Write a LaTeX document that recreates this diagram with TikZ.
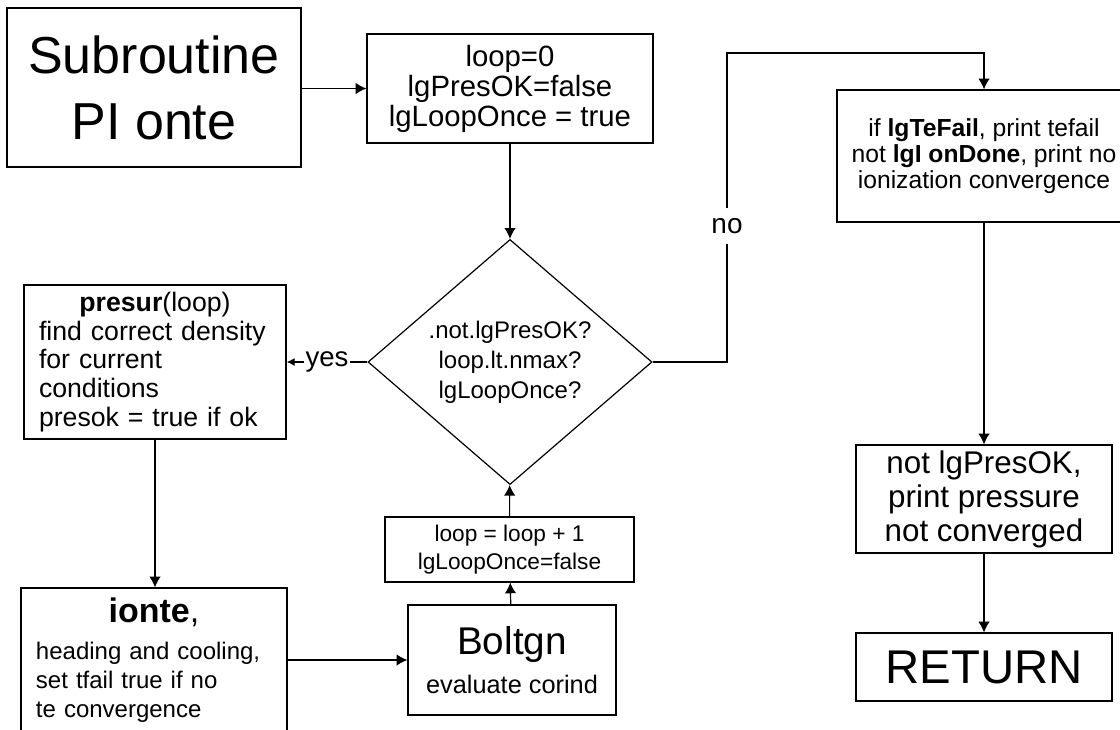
\documentclass[tikz,border=0pt]{standalone}
\usepackage{fontspec}
\setmainfont{Liberation Sans}
\usetikzlibrary{arrows.meta,shapes.geometric}
\newcommand{\fsz}[2]{\fontsize{#1}{#2}\selectfont}
\begin{document}
\begin{tikzpicture}[x=0.75pt,y=-0.75pt,
  box/.style={draw, line width=0.9pt, rectangle, inner sep=0pt, align=center},
  pw/.style={minimum width=#1*0.75pt},
  ph/.style={minimum height=#1*0.75pt},
  arr/.style={line width=0.9pt, -{Latex[length=8pt,width=8.5pt]}},
  smallarr/.style={line width=0.9pt, -{Latex[length=6pt,width=6pt]}},
  lbl/.style={fill=white, inner sep=3pt}]
\clip (0,0) rectangle (1120,729);
\fill[white] (0,0) rectangle (1120,729);

\node[box,pw=294,ph=159,font=\fsz{39}{49.5}] (sub) at (154,87.5) {Subroutine\\PI onte};
\node[box,pw=286,ph=109,font=\fsz{22}{22.5}] (init) at (510,88.5) {loop=0\\lgPresOK=false\\lgLoopOnce = true};
\node[draw, line width=0.9pt, diamond, inner sep=0pt, minimum width=284*0.75pt, minimum height=240*0.75pt, align=center, font=\fsz{18}{22.5}] (dia) at (510,362) {.not.lgPresOK?\\loop.lt.nmax?\\lgLoopOnce?};
\node[box,pw=262,ph=154,text width=174pt,align=left,font=\fsz{20}{21.5}] (presur) at (155,362)
  {{\centering\textbf{presur}(loop)\par}find correct density\\for current\\conditions\\presok = true if ok};
\node[box,pw=266,ph=144,text width=177pt,align=left,font=\fsz{18}{21.75}] (ionte) at (154,660)
  {{\centering\fsz{25.5}{28}\textbf{ionte},\par}\vskip 6pt heading and cooling,\\set tfail true if no\\te convergence};
\node[box,pw=208,ph=110,font=\fsz{19}{29}] (bolt) at (512,660) {{\fsz{29}{29}Boltgn}\\evaluate corind};
\node[box,pw=249,ph=65,font=\fsz{17}{21}] (loop) at (509.5,549.5) {loop = loop + 1\\lgLoopOnce=false};
\node[box,pw=294,ph=132,font=\fsz{18.5}{19.5}] (tefail) at (984,156) {if \textbf{lgTeFail}, print tefail\\not \textbf{lgI onDone}, print no\\ionization convergence};
\node[box,pw=256,ph=108,font=\fsz{23.5}{25.5}] (np) at (984,499) {not lgPresOK,\\print pressure\\not converged};
\node[box,pw=256,ph=68,font=\fsz{35.5}{40}] (ret) at (984,667) {RETURN};

\coordinate (c1) at (727,53);
\draw[arr] (sub.east |- init.west) -- (init.west);
\draw[arr] (init) -- (dia);
\draw[smallarr] (dia.west) -- node[lbl, inner sep=1pt, font=\fsz{20.7}{21}] (yeslbl) {yes} (presur.east |- dia.west);
\draw[arr] (dia.east) -| (c1) -| (tefail.north);
\node[lbl, inner xsep=2pt, inner ysep=8pt, font=\fsz{21}{21}] (nolbl) at (727,226) {no};
\draw[arr] (tefail) -- (np);
\draw[arr] (np) -- (ret);
\draw[arr] (presur.south) -- (presur.south |- ionte.north);
\draw[arr] (ionte) -- (bolt);
\draw[arr] (bolt) -- (loop);
\draw[arr] (loop) -- (dia);
\end{tikzpicture}
\end{document}
